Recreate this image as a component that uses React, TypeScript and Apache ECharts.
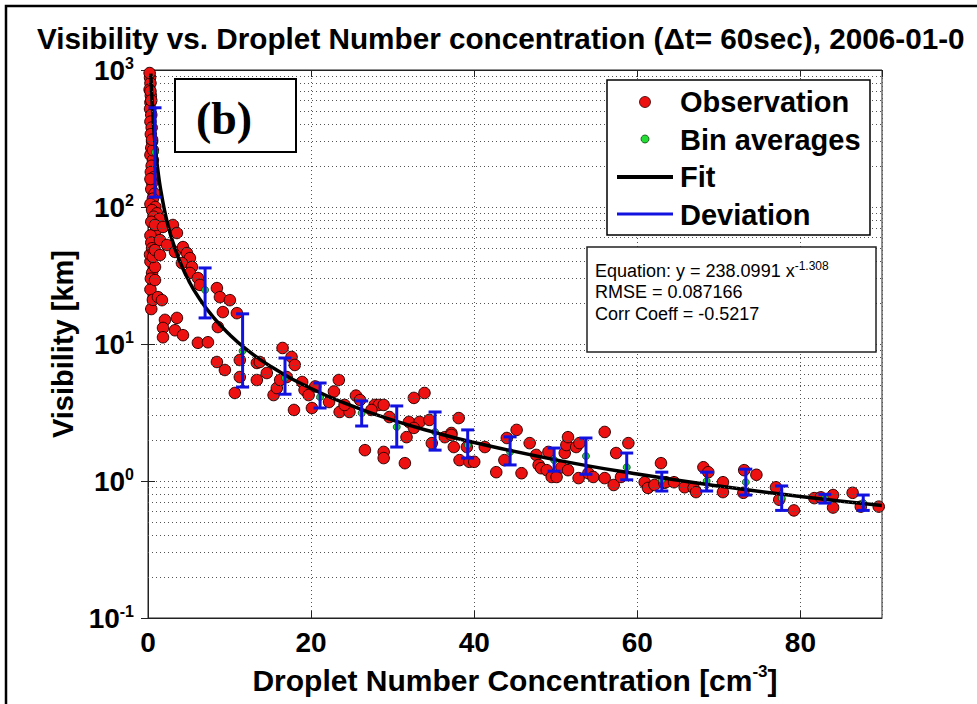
import React, { useEffect, useRef } from 'react';
import * as echarts from 'echarts';

// Observations (droplet number concentration [cm^-3], visibility [km])
const obsX = [
  0.25, 0.3, 0.2, 0.35, 0.3, 0.25, 0.4, 0.3, 0.45, 0.35, 0.5, 0.4, 0.3, 0.6, 0.45, 0.35, 0.7, 0.5, 0.4, 0.8,
  0.6, 0.3, 0.9, 0.5, 1.1, 0.7, 1.4, 0.4, 1.0, 0.3, 0.2, 0.3, 0.4, 0.6, 0.5, 0.3,
  0.4, 0.3, 0.5, 0.3, 0.4, 0.6, 0.35, 0.25, 0.5, 0.7, 0.86, 0.86, 0.61, 0.86, 1.22, 1.47, 1.47, 0.86,
  1.84, 3.06, 3.55, 2.33, 3.31, 4.29, 4.78, 5.14, 4.16, 5.39, 5.14, 6.12, 6.37, 8.45, 8.82, 10.04, 1.71, 9.18, 10.9, 2.08,
  3.55, 1.84, 3.31, 1.84, 4.29, 8.57, 6.12, 7.35, 8.45, 9.43, 11.26, 11.26, 13.35, 14.57, 16.5, 17.6, 18.0, 17.0,
  10.65, 13.35, 13.7, 15.4, 15.8, 16.2, 17.9, 18.9, 19.2, 19.7, 20.1, 22.2, 23.4, 23.5, 24.7, 24.1, 27.8, 28.3, 28.9, 27.4,
  29.6, 32.0, 32.6, 33.9, 33.3, 34.5, 32.6, 31.7, 26.6, 28.9, 28.9, 31.5, 34.8, 36.4, 37.2, 37.5, 38.1, 38.2, 37.2, 39.4,
  40.0, 39.1, 41.3, 42.7, 43.7, 44.0, 45.2, 45.8, 46.8, 47.6, 47.9, 48.2, 48.9, 49.5, 50.1, 49.1, 50.7, 51.5, 51.1, 51.3,
  51.5, 52.5, 52.9, 52.8, 54.0, 54.6, 56.0, 56.0, 57.1, 57.4, 58.9, 58.0, 60.9, 61.3, 62.1, 62.9, 63.3, 63.5, 64.5, 65.8,
  66.9, 67.2, 68.1, 68.7, 70.5, 70.5, 73.1, 74.6, 73.0, 77.0, 77.4, 79.2, 81.7, 82.5, 84.0, 84.0, 86.4, 87.4, 89.6,
  20.5, 25.5, 26.0, 22.8,
];
const obsY = [
  880, 800, 720, 650, 580, 520, 470, 420, 380, 340, 300, 270, 240, 220, 200, 180, 165, 150, 135, 125,
  115, 105, 100, 95, 90, 85, 82, 78, 68, 62, 950, 700, 600, 260, 310, 160,
  55, 40, 33, 25, 18, 21, 30, 45, 50, 48, 36.5, 29.3, 43.2, 48.5, 22, 57.4, 44.6, 73.9,
  71.5, 73.9, 64.6, 52.8, 47.0, 51.0, 46.1, 42.4, 39.0, 36.5, 33.0, 30.3, 27.0, 25.6, 22.0, 20.9, 20.9, 17.1, 16.8, 15.0,
  15.5, 13.1, 12.6, 11.2, 11.6, 13.3, 10.2, 10.3, 7.39, 6.46, 7.64, 5.74, 7.27, 6.14, 9.35, 8.04, 7.03, 5.74,
  4.39, 5.46, 7.39, 4.24, 4.77, 5.46, 3.30, 5.28, 4.62, 4.24, 3.41, 3.77, 5.46, 3.19, 3.19, 3.59, 3.59, 3.59, 3.59, 3.30,
  2.93, 2.70, 4.04, 4.39, 2.70, 2.79, 2.44, 2.09, 1.68, 1.63, 1.47, 1.35, 1.89, 2.09, 2.24, 1.77, 2.88, 1.42, 2.17, 1.38,
  1.38, 1.77, 1.77, 1.16, 1.42, 2.06, 2.36, 1.14, 1.89, 1.55, 1.31, 1.24, 1.20, 1.07, 1.07, 1.63, 1.26, 1.20, 1.60, 1.83,
  2.09, 1.77, 1.89, 1.05, 1.14, 1.07, 2.28, 1.05, 0.935, 1.60, 1.89, 1.07, 0.98, 0.89, 0.935, 1.35, 0.97, 0.98, 0.98, 0.90,
  0.89, 0.83, 1.26, 1.16, 0.98, 0.83, 1.20, 1.11, 0.82, 0.90, 0.73, 0.61, 0.75, 0.76, 0.79, 0.64, 0.82, 0.65, 0.65,
  4.9, 4.2, 3.9, 4.5,
];

// Bin averages and deviation ranges
const binX = [0.86, 7.0, 11.6, 16.8, 21.1, 26.2, 30.5, 35.2, 39.2, 44.4, 49.8, 53.7, 58.7, 63.0, 68.5, 73.3, 77.7, 83.0, 87.7];
const binMean = [251, 24.8, 8.9, 5.65, 4.1, 3.13, 2.48, 2.28, 1.83, 1.63, 1.42, 1.52, 1.26, 1.02, 1.0, 0.98, 0.75, 0.75, 0.69];
const binLow = [118, 15.5, 4.85, 4.3, 3.41, 2.52, 1.77, 1.68, 1.47, 1.31, 1.18, 1.12, 1.02, 0.845, 0.845, 0.79, 0.61, 0.69, 0.61];
const binHigh = [530, 35.9, 16.6, 7.9, 5.19, 3.84, 3.53, 3.19, 2.36, 2.1, 1.74, 2.06, 1.6, 1.16, 1.16, 1.22, 0.92, 0.80, 0.79];

// Fit curve
const fitX = [0.35, 0.4, 0.5, 0.6, 0.75, 1, 1.25, 1.5, 2, 2.5, 3, 4, 5, 6, 8, 10, 12, 15, 20, 25, 30, 35, 40, 50, 60, 70, 80, 90];
const fitY = [940, 789, 589.5, 464.5, 346.9, 238.1, 177.8, 140.1, 96.2, 71.8, 56.6, 38.8, 29.0, 22.85, 15.69, 11.72, 9.23, 6.89, 4.73, 3.53, 2.78, 2.276, 1.911, 1.427, 1.125, 0.919, 0.772, 0.662];

// Axis ticks
const xTickLabels = ['0', '20', '40', '60', '80'];
const yTickExponents = ['-1', '0', '1', '2', '3'];
const yMinorGrid = [
  0.2, 0.3, 0.4, 0.5, 0.6, 0.7, 0.8, 0.9,
  2, 3, 4, 5, 6, 7, 8, 9,
  20, 30, 40, 50, 60, 70, 80, 90,
  200, 300, 400, 500, 600, 700, 800, 900,
];

const TITLE = 'Visibility vs. Droplet Number concentration (\u0394t= 60sec), 2006-01-0';
const SANS = "'Liberation Sans', Arial, sans-serif";
const SERIF = "'Liberation Serif', 'Times New Roman', serif";
const GRID_COLOR = '#555';
const DOT: any = [1, 3];

export default function App() {
  const ref = useRef<HTMLDivElement>(null);
  useEffect(() => {
    if (!ref.current) return;
    const chart = echarts.init(ref.current, null, { renderer: 'svg' });
    const obs = obsX.map((x, i) => [x, obsY[i]]);
    const bins = binX.map((x, i) => [x, binMean[i]]);
    const devs = binX.map((x, i) => [x, binLow[i], binHigh[i]]);
    const fit = fitX.map((x, i) => [x, fitY[i]]);

    const option: any = {
      animation: false,
      backgroundColor: '#fff',
      grid: { left: 148, top: 70, width: 734, height: 548, show: true, borderColor: '#222', borderWidth: 1, backgroundColor: 'transparent' },
      xAxis: [
        {
          type: 'value', min: 0, max: 90, interval: 20,
          name: '{t|Droplet Number Concentration [cm}{s|-3}{t|]}',
          nameLocation: 'middle', nameGap: 45,
          nameTextStyle: {
            rich: {
              t: { fontFamily: SANS, fontWeight: 'bold', fontSize: 30, color: '#000', lineHeight: 34 },
              s: { fontFamily: SANS, fontWeight: 'bold', fontSize: 17, color: '#000', verticalAlign: 'top', lineHeight: 34 },
            },
          },
          axisLine: { show: true, lineStyle: { color: '#222', width: 1 } },
          axisTick: { show: true, inside: true, length: 7, lineStyle: { color: '#222' } },
          axisLabel: {
            fontFamily: SANS, fontWeight: 'bold', fontSize: 28, color: '#000', margin: 10,
            showMaxLabel: false,
            formatter: (v: number) => xTickLabels[Math.round(v / 20)] ?? '',
          },
          splitLine: { show: true, lineStyle: { color: GRID_COLOR, type: DOT, width: 1 } },
        },
        {
          type: 'value', min: 0, max: 90, interval: 20, position: 'top',
          axisLine: { show: true, lineStyle: { color: '#222' } },
          axisTick: { show: true, inside: true, length: 7, lineStyle: { color: '#222' } },
          axisLabel: { show: false }, splitLine: { show: false },
        },
      ],
      yAxis: [
        {
          type: 'log', logBase: 10, min: 0.1, max: 1000,
          name: 'Visibility [km]', nameLocation: 'middle', nameGap: 57,
          nameTextStyle: { fontFamily: SANS, fontWeight: 'bold', fontSize: 29, color: '#000' },
          axisLine: { show: true, lineStyle: { color: '#222', width: 1 } },
          axisTick: { show: true, inside: true, length: 7, lineStyle: { color: '#222' } },
          axisLabel: {
            margin: 14,
            formatter: (v: number) => {
              const e = Math.round(Math.log10(v));
              const lbl = yTickExponents[e + 1] ?? String(e);
              return `{b|10}{e|${lbl}}`;
            },
            rich: {
              b: { fontFamily: SANS, fontWeight: 'bold', fontSize: 28, color: '#000', lineHeight: 30 },
              e: { fontFamily: SANS, fontWeight: 'bold', fontSize: 16, color: '#000', verticalAlign: 'top', lineHeight: 30, padding: [0, 0, 14, 0] },
            },
          },
          splitLine: { show: true, lineStyle: { color: GRID_COLOR, type: DOT, width: 1 } },
        },
        {
          type: 'log', logBase: 10, min: 0.1, max: 1000, position: 'right',
          axisLine: { show: true, lineStyle: { color: '#222' } },
          axisTick: { show: true, inside: true, length: 7, lineStyle: { color: '#222' } },
          axisLabel: { show: false }, splitLine: { show: false },
        },
      ],
      series: [
        {
          type: 'line', data: [], z: 0, silent: true,
          markLine: {
            silent: true, symbol: ['none', 'none'], label: { show: false },
            lineStyle: { color: GRID_COLOR, type: DOT, width: 1 },
            data: yMinorGrid.map((v) => ({ yAxis: v })),
          },
        },
        {
          name: 'Observation', type: 'scatter', data: obs, symbol: 'circle', symbolSize: 11.5, z: 2,
          itemStyle: { color: '#ee1111', borderColor: '#300000', borderWidth: 1, opacity: 1 },
        },
        {
          name: 'Bin averages', type: 'scatter', data: bins, symbol: 'circle', symbolSize: 7, z: 3,
          itemStyle: { color: '#22dd33', borderColor: '#114411', borderWidth: 0.8, opacity: 1 },
        },
        {
          name: 'Fit', type: 'line', data: fit, showSymbol: false, smooth: true, z: 4,
          lineStyle: { color: '#000', width: 3.5 },
        },
        {
          name: 'Deviation', type: 'custom', data: devs, z: 5,
          encode: { x: 0, y: [1, 2] },
          renderItem: (params: any, api: any) => {
            const x = api.value(0);
            const lo = api.coord([x, api.value(1)]);
            const hi = api.coord([x, api.value(2)]);
            const cap = 6.5;
            const style = { stroke: '#1212e0', lineWidth: 3 };
            return {
              type: 'group',
              children: [
                { type: 'line', shape: { x1: lo[0], y1: lo[1], x2: hi[0], y2: hi[1] }, style },
                { type: 'line', shape: { x1: lo[0] - cap, y1: lo[1], x2: lo[0] + cap, y2: lo[1] }, style },
                { type: 'line', shape: { x1: hi[0] - cap, y1: hi[1], x2: hi[0] + cap, y2: hi[1] }, style },
              ],
            };
          },
        },
      ],
      graphic: [
        { type: 'rect', shape: { x: 6, y: 6, width: 1200, height: 1200 }, style: { fill: 'none', stroke: '#000', lineWidth: 2.5 }, z: 100 },
        {
          type: 'text', x: 37, y: 38, z: 100, scaleX: 0.99,
          style: { text: TITLE, font: `bold 30px ${SANS}`, fill: '#000', textVerticalAlign: 'middle', textAlign: 'left' },
        },
        // (b) panel tag
        { type: 'rect', shape: { x: 175, y: 79, width: 121, height: 73 }, style: { fill: '#fff', stroke: '#000', lineWidth: 2 }, z: 100 },
        { type: 'text', x: 224, y: 118, z: 101, style: { text: '(b)', font: `bold 46px ${SERIF}`, fill: '#000', textAlign: 'center', textVerticalAlign: 'middle' } },
        // legend
        { type: 'rect', shape: { x: 607, y: 80, width: 263, height: 155 }, style: { fill: '#fff', stroke: '#000', lineWidth: 1.5 }, z: 100 },
        { type: 'circle', shape: { cx: 645, cy: 102, r: 5.5 }, style: { fill: '#ee1111', stroke: '#300000', lineWidth: 0.8 }, z: 101 },
        { type: 'text', x: 680, y: 102, z: 101, style: { text: 'Observation', font: `bold 29px ${SANS}`, fill: '#000', textVerticalAlign: 'middle' } },
        { type: 'circle', shape: { cx: 645, cy: 139, r: 4 }, style: { fill: '#22dd33', stroke: '#114411', lineWidth: 0.8 }, z: 101 },
        { type: 'text', x: 680, y: 140, z: 101, style: { text: 'Bin averages', font: `bold 29px ${SANS}`, fill: '#000', textVerticalAlign: 'middle' } },
        { type: 'line', shape: { x1: 617, y1: 177, x2: 673, y2: 177 }, style: { stroke: '#000', lineWidth: 4 }, z: 101 },
        { type: 'text', x: 680, y: 177, z: 101, style: { text: 'Fit', font: `bold 29px ${SANS}`, fill: '#000', textVerticalAlign: 'middle' } },
        { type: 'line', shape: { x1: 617, y1: 214, x2: 673, y2: 214 }, style: { stroke: '#1212e0', lineWidth: 3 }, z: 101 },
        { type: 'text', x: 680, y: 215, z: 101, style: { text: 'Deviation', font: `bold 29px ${SANS}`, fill: '#000', textVerticalAlign: 'middle' } },
        // equation box
        { type: 'rect', shape: { x: 587, y: 247, width: 289, height: 105 }, style: { fill: '#fff', stroke: '#222', lineWidth: 1.5 }, z: 100 },
        {
          type: 'text', x: 595, y: 271, z: 101,
          style: {
            text: '{a|Equation: y = 238.0991 x}{s|-1.308}',
            textVerticalAlign: 'middle',
            rich: {
              a: { fontFamily: SANS, fontSize: 18, fill: '#000', color: '#000', lineHeight: 22 },
              s: { fontFamily: SANS, fontSize: 12, fill: '#000', color: '#000', verticalAlign: 'top', lineHeight: 22, padding: [0, 0, 12, 0] },
            },
          },
        },
        { type: 'text', x: 595, y: 292, z: 101, style: { text: 'RMSE = 0.087166', font: `18px ${SANS}`, fill: '#000', textVerticalAlign: 'middle' } },
        { type: 'text', x: 595, y: 314, z: 101, style: { text: 'Corr Coeff = -0.5217', font: `18px ${SANS}`, fill: '#000', textVerticalAlign: 'middle' } },
      ],
    };
    chart.setOption(option);
    return () => chart.dispose();
  }, []);
  return <div ref={ref} style={{ position: 'fixed', left: 0, top: 0, width: 977, height: 704, background: '#fff' }} />;
}
